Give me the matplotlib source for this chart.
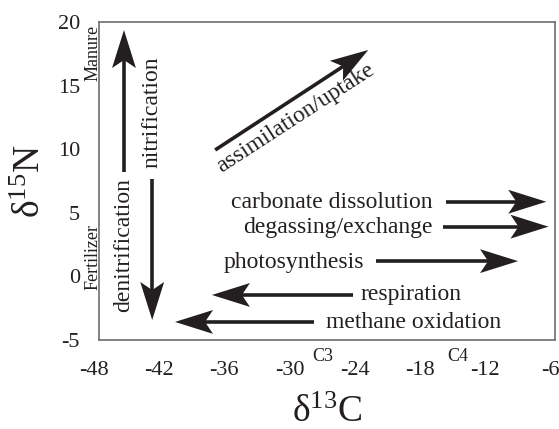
import numpy as np
import matplotlib
matplotlib.use('Agg')
import matplotlib.pyplot as plt
from matplotlib.patches import Polygon
from matplotlib.transforms import Affine2D, ScaledTranslation

plt.rcParams['font.family'] = ['Liberation Serif', 'DejaVu Serif']
plt.rcParams['mathtext.fontset'] = 'custom'
plt.rcParams['mathtext.rm'] = 'Liberation Serif'
plt.rcParams['axes.unicode_minus'] = False

# DATA
x_ticks = [-48, -42, -36, -30, -24, -18, -12, -6]
y_ticks = [-5, 0, 5, 10, 15, 20]

# processes: label, tail (x, y), tip (x, y)
h_labels = ['carbonate dissolution', 'degassing/exchange', 'photosynthesis',
            'respiration', 'methane oxidation']
h_tail_x = [-16.05, -16.3, -22.5, -24.6, -28.2]
h_tip_x = [-6.8, -6.6, -9.4, -37.6, -41.0]
h_y = [5.87, 3.91, 1.2, -1.46, -3.58]
h_text_x = [-17.25, -17.25, -23.6, -23.9, -27.13]
h_text_y = [5.38, 3.41, 0.66, -1.86, -4.06]

v_labels = ['denitrification', 'nitrification']
v_x = [-45.7, -43.1]
v_tail_y = [8.2, 7.66]
v_tip_y = [19.37, -3.43]
v_text_x = [-45.23, -42.64]
v_text_y = [2.47, 12.9]

diag_label = 'assimilation/uptake'
diag_tail = (-37.3, 9.94)
diag_tip = (-23.2, 17.8)
diag_text = (-29.6, 12.1)

ink = '#231f20'

fig = plt.figure(figsize=(5.59, 4.29), dpi=100)
ax = fig.add_axes([99/559, 89/429, 456/559, 318/429])
ax.set_xlim(-48, -6)
ax.set_ylim(-5, 20)
for s in ax.spines.values():
    s.set_color('#6d6e71')
    s.set_linewidth(1.2)
ax.set_xticks(x_ticks)
ax.set_yticks(y_ticks)
ax.set_xticklabels([str(v) for v in x_ticks])
ax.set_yticklabels([str(v) for v in y_ticks])
ax.tick_params(length=0, labelsize=16, colors=ink)
ax.tick_params(axis='x', pad=15)
ax.tick_params(axis='y', pad=13.7)
# shift x tick labels so digits sit on ticks
shift = ScaledTranslation(-5/100, 0, fig.dpi_scale_trans)
for lab in ax.get_xticklabels():
    lab.set_transform(lab.get_transform() + shift)

ax.set_xlabel(r'$\mathregular{\delta^{13}C}$', fontsize=27, color=ink)
ax.set_ylabel(r'$\mathregular{\delta^{15}N}$', fontsize=27, color=ink)
ax.xaxis.set_label_coords(0.5, -0.176)
ax.yaxis.set_label_coords(-0.112, 0.5)

# arrow head (points) pointing +x with tip at origin
HL, HW, NOTCH = 27.4, 8.6, 5.8
head = np.array([[0, 0], [-HL, HW], [-HL + NOTCH, 0], [-HL, -HW]])


def draw_arrow(x0, y0, x1, y1):
    p0 = ax.transData.transform((x0, y0))
    p1 = ax.transData.transform((x1, y1))
    d = p1 - p0
    u = d / np.hypot(*d)
    theta = np.arctan2(d[1], d[0])
    back = (HL - NOTCH - 1) / 72 * fig.dpi
    pe = ax.transData.inverted().transform(p1 - u * back)
    ax.plot([x0, pe[0]], [y0, pe[1]], color=ink, lw=2.6, solid_capstyle='butt')
    tr = (Affine2D().rotate(theta).scale(1 / 72) + fig.dpi_scale_trans
          + ScaledTranslation(x1, y1, ax.transData))
    ax.add_patch(Polygon(head, closed=True, transform=tr, facecolor=ink,
                         edgecolor='none', zorder=3, clip_on=False))


for i in range(len(h_labels)):
    draw_arrow(h_tail_x[i], h_y[i], h_tip_x[i], h_y[i])
    ha = 'right' if h_tip_x[i] > h_tail_x[i] else 'left'
    ax.text(h_text_x[i], h_text_y[i], h_labels[i], fontsize=17, color=ink,
            ha=ha, va='baseline')

for i in range(len(v_labels)):
    draw_arrow(v_x[i], v_tail_y[i], v_x[i], v_tip_y[i])
    ax.text(v_text_x[i], v_text_y[i], v_labels[i], fontsize=17, color=ink,
            rotation=90, rotation_mode='anchor', ha='center', va='baseline')

draw_arrow(diag_tail[0], diag_tail[1], diag_tip[0], diag_tip[1])
ax.text(diag_text[0], diag_text[1], diag_label, fontsize=17, color=ink,
        rotation=33, rotation_mode='anchor', ha='center', va='baseline')

# side notes
ax.text(-48.18, 17.56, 'Manure', fontsize=13, color=ink, rotation=90,
        rotation_mode='anchor', ha='center', va='baseline', clip_on=False)
ax.text(-48.18, 1.53, 'Fertilizer', fontsize=13, color=ink, rotation=90,
        rotation_mode='anchor', ha='center', va='baseline', clip_on=False)
ax.text(-27.4, -6.3, 'C3', fontsize=13, color=ink, ha='center', va='center',
        clip_on=False)
ax.text(-15.0, -6.3, 'C4', fontsize=13, color=ink, ha='center', va='center',
        clip_on=False)

fig.savefig('out.png', dpi=100)
